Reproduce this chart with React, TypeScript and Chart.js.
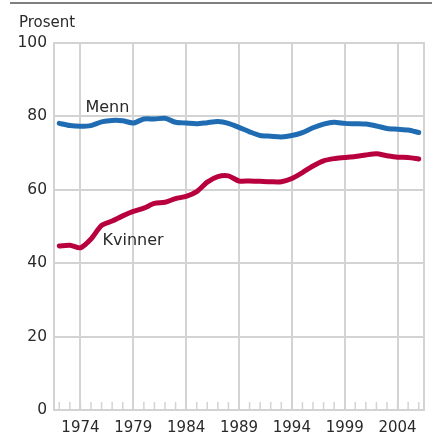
import React, { useEffect, useRef } from "react";
import { Chart, registerables } from "chart.js";

Chart.register(...registerables);

const years = [
  "1972", "1973", "1974", "1975", "1976", "1977", "1978", "1979", "1980", "1981",
  "1982", "1983", "1984", "1985", "1986", "1987", "1988", "1989", "1990", "1991",
  "1992", "1993", "1994", "1995", "1996", "1997", "1998", "1999", "2000", "2001",
  "2002", "2003", "2004", "2005", "2006",
];

const menn = [
  78.1, 77.5, 77.3, 77.5, 78.5, 78.9, 78.8, 78.2, 79.3, 79.3,
  79.5, 78.4, 78.2, 78.0, 78.3, 78.6, 78.1, 77.0, 75.8, 74.8,
  74.6, 74.4, 74.8, 75.6, 76.9, 77.9, 78.4, 78.1, 78.0, 77.9,
  77.4, 76.7, 76.5, 76.3, 75.6,
];

const kvinner = [
  44.7, 44.9, 44.2, 46.6, 50.3, 51.5, 52.9, 54.1, 55.0, 56.3,
  56.6, 57.6, 58.2, 59.5, 62.1, 63.6, 63.8, 62.4, 62.4, 62.3,
  62.2, 62.2, 63.1, 64.7, 66.5, 67.9, 68.5, 68.8, 69.1, 69.5,
  69.8, 69.3, 68.9, 68.8, 68.4,
];

const yTicks = [0, 20, 40, 60, 80, 100];
const seriesLabels = ["Menn", "Kvinner"];
const unitLabel = "Prosent";

const FONT = "'DejaVu Sans', sans-serif";
const GRID = "#d3d3d3";
const TEXT = "#2a2a2a";

const isMajor = (i: number) => (Number(years[i]) - 1974) % 5 === 0;

const decorations = {
  id: "decorations",
  beforeDatasetsDraw(chart: any) {
    const { ctx, chartArea, scales } = chart;
    const xs = scales.x;
    ctx.save();
    ctx.strokeStyle = GRID;
    ctx.lineWidth = 1.5;
    for (let i = 0; i < years.length; i++) {
      const px = xs.getPixelForValue(i);
      ctx.beginPath();
      ctx.moveTo(px, chartArea.bottom);
      ctx.lineTo(px, chartArea.bottom - 8);
      ctx.stroke();
    }
    ctx.lineWidth = 2;
    ctx.strokeRect(chartArea.left, chartArea.top, chartArea.right - chartArea.left, chartArea.bottom - chartArea.top);
    ctx.restore();
  },
  afterDatasetsDraw(chart: any) {
    const { ctx, scales } = chart;
    const xs = scales.x;
    const ys = scales.y;
    ctx.save();
    ctx.strokeStyle = "#555555";
    ctx.lineWidth = 1.5;
    ctx.beginPath();
    ctx.moveTo(10, 3);
    ctx.lineTo(chart.width, 3);
    ctx.stroke();
    ctx.fillStyle = TEXT;
    ctx.font = `15px ${FONT}`;
    ctx.textAlign = "left";
    ctx.textBaseline = "alphabetic";
    ctx.fillText(unitLabel, 19, 27);
    ctx.font = `16px ${FONT}`;
    ctx.fillText(seriesLabels[0], xs.getPixelForValue(2) + 5, ys.getPixelForValue(80) - 4);
    ctx.fillText(seriesLabels[1], xs.getPixelForValue(4) + 1, ys.getPixelForValue(45));
    ctx.restore();
  },
};

export default function App() {
  const ref = useRef<HTMLCanvasElement | null>(null);
  useEffect(() => {
    if (!ref.current) return;
    const chart = new Chart(ref.current, {
      type: "line",
      data: {
        labels: years,
        datasets: [
          {
            label: seriesLabels[0],
            data: menn,
            borderColor: "#1f6cb3",
            borderWidth: 5,
            pointRadius: 0,
            tension: 0.25,
            borderJoinStyle: "round",
            borderCapStyle: "round",
          },
          {
            label: seriesLabels[1],
            data: kvinner,
            borderColor: "#b8003e",
            borderWidth: 5,
            pointRadius: 0,
            tension: 0.25,
            borderJoinStyle: "round",
            borderCapStyle: "round",
          },
        ],
      },
      options: {
        animation: false,
        responsive: false,
        maintainAspectRatio: false,
        layout: { padding: { left: 0, right: 8, top: 43, bottom: 0 } },
        plugins: {
          legend: { display: false },
          tooltip: { enabled: false },
        },
        scales: {
          x: {
            type: "category",
            offset: true,
            border: { display: false },
            grid: {
              offset: false,
              drawTicks: false,
              lineWidth: 2,
              color: (c: any) => (c.index !== undefined && isMajor(c.index) ? GRID : "rgba(0,0,0,0)"),
            },
            ticks: {
              autoSkip: false,
              maxRotation: 0,
              padding: 9,
              color: TEXT,
              font: { family: FONT, size: 15 },
              callback: (_v: any, i: number) => (isMajor(i) ? years[i] : ""),
            },
            afterFit: (s: any) => {
              s.height = 23;
            },
          },
          y: {
            min: 0,
            max: 100,
            border: { display: false },
            afterBuildTicks: (s: any) => {
              s.ticks = yTicks.map((v) => ({ value: v }));
            },
            grid: { drawTicks: false, lineWidth: 2, color: GRID },
            ticks: {
              padding: 7,
              color: TEXT,
              font: { family: FONT, size: 15.5 },
            },
            afterFit: (s: any) => {
              s.width = 54;
            },
          },
        },
      },
      plugins: [decorations],
    });
    return () => chart.destroy();
  }, []);
  return (
    <div style={{ position: "fixed", left: 0, top: 0, width: 432, height: 433, background: "#fff" }}>
      <canvas ref={ref} width={432} height={433} style={{ display: "block" }} />
    </div>
  );
}
